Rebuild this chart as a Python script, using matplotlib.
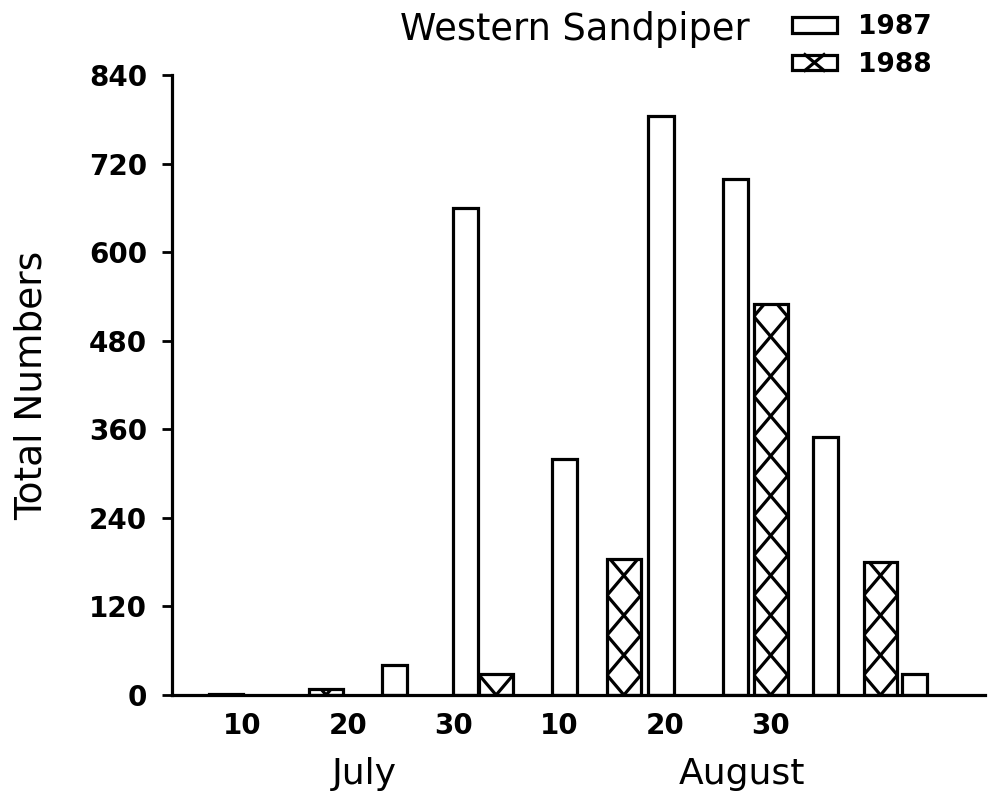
import numpy as np
import matplotlib.pyplot as plt
from matplotlib.patches import Rectangle
from matplotlib.lines import Line2D
from matplotlib.legend_handler import HandlerPatch

# position along the season, 10 units between labelled dates
pos_1987 = [24.4, 31.1, 40.5, 49.6, 56.7, 65.2, 73.6]
counts_1987 = [40, 660, 320, 785, 700, 350, 28]
pos_1988 = [8.4, 17.9, 34.0, 46.1, 60.0, 70.4]
counts_1988 = [2, 8, 28, 185, 530, 180]

tick_pos = [10, 20, 30, 40, 50, 60]
tick_labels = ['10', '20', '30', '10', '20', '30']
month_names = ['July', 'August']
month_pos = [21.5, 57.3]
y_ticks = np.arange(0, 841, 120)

lw = 2.3
plt.rcParams['font.family'] = 'DejaVu Sans'

fig = plt.figure(figsize=(9.88, 8.06), dpi=100)
ax = fig.add_axes([0.174, 0.1377, 0.823, 0.769])

bars87 = ax.bar(pos_1987, counts_1987, width=2.4, facecolor='white',
                edgecolor='black', linewidth=lw)
bars88 = ax.bar(pos_1988, counts_1988, width=3.2, facecolor='white',
                edgecolor='black', linewidth=lw)

# cross hatching, one X per period, centred in each bar
period = 54
for rect in bars88:
    x0, w, h = rect.get_x(), rect.get_width(), rect.get_height()
    cx = x0 + w / 2
    slope = period / w
    xs = np.array([x0 - w, x0 + 2 * w])
    for k in range(int(h // period) + 2):
        for s in (1, -1):
            ln, = ax.plot(xs, k * period + s * slope * (xs - cx),
                          color='black', lw=lw, solid_capstyle='butt')
            ln.set_clip_path(rect)


class HandlerCross(HandlerPatch):
    def create_artists(self, legend, orig_handle, xdescent, ydescent,
                       width, height, fontsize, trans):
        x0, y0 = -xdescent, -ydescent
        box = Rectangle((x0, y0), width, height, facecolor='white',
                        edgecolor='black', lw=lw, transform=trans)
        cx = x0 + width / 2
        half = height * 0.6
        a = Line2D([cx - half, cx + half], [y0, y0 + height],
                   color='black', lw=lw, transform=trans)
        b = Line2D([cx - half, cx + half], [y0 + height, y0],
                   color='black', lw=lw, transform=trans)
        return [box, a, b]


h87 = Rectangle((0, 0), 1, 1, facecolor='white', edgecolor='black', lw=lw)
h88 = Rectangle((0, 0), 1, 1, facecolor='white', edgecolor='black', lw=lw)
ax.legend([h87, h88], ['1987', '1988'], handler_map={h88: HandlerCross()},
          loc='upper left', bbox_to_anchor=(792 / 988, 1 - 14 / 806),
          bbox_transform=fig.transFigure, frameon=False, borderpad=0,
          borderaxespad=0, handlelength=1.7, handleheight=0.55,
          handletextpad=0.8, labelspacing=0.45,
          prop={'weight': 'bold', 'size': 19})

fig.text(750 / 988, 1 - 30 / 806, 'Western Sandpiper', ha='right',
         va='center', fontsize=26.5)

ax.set_xlim(3.3, 80.3)
ax.set_ylim(0, 840)
ax.set_yticks(y_ticks)
ax.set_xticks(tick_pos)
ax.set_xticklabels(tick_labels)
ax.tick_params(axis='y', direction='out', length=7, width=2, pad=11,
               labelsize=20)
ax.tick_params(axis='x', length=0, pad=12, labelsize=20)
for lab in ax.get_xticklabels() + ax.get_yticklabels():
    lab.set_fontweight('bold')

for name, p in zip(month_names, month_pos):
    ax.text(p, -0.128, name, transform=ax.get_xaxis_transform(),
            ha='center', va='center', fontsize=26)

ax.set_ylabel('Total Numbers', fontsize=27)
ax.yaxis.set_label_coords(-0.150, 0.5)

for side in ['top', 'right']:
    ax.spines[side].set_visible(False)
for side in ['left', 'bottom']:
    ax.spines[side].set_linewidth(lw)

fig.savefig('out.png', dpi=100)
